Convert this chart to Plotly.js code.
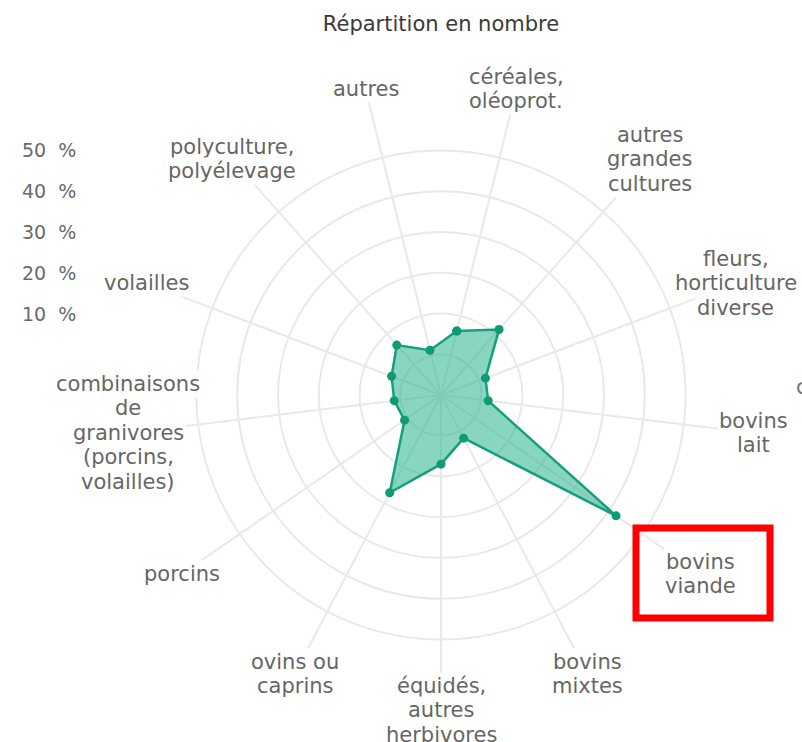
<!DOCTYPE html>
<html>
<head>
<meta charset="utf-8">
<script src="https://cdn.plot.ly/plotly-3.0.1.min.js"></script>
<style>html,body{margin:0;padding:0;background:#fff;}#chart{width:802px;height:742px;}</style>
</head>
<body>
<div id="chart"></div>
<script>
// ---- data ----
const categories = [
  "céréales,<br>oléoprot.",
  "autres<br>grandes<br>cultures",
  "fleurs,<br>horticulture<br>diverse",
  "bovins<br>lait",
  "bovins<br>viande",
  "bovins<br>mixtes",
  "équidés,<br>autres<br>herbivores",
  "ovins ou<br>caprins",
  "porcins",
  "combinaisons<br>de<br>granivores<br>(porcins,<br>volailles)",
  "volailles",
  "polyculture,<br>polyélevage",
  "autres"
];
const values = [6.2, 11.5, 1.7, 1.7, 42.2, 2.0, 7.0, 17.1, 0.9, 1.6, 3.0, 6.4, 1.35];
const radialTickValues = [10, 20, 30, 40, 50];
const radialTickLabels = ["10\u00a0\u00a0%", "20\u00a0\u00a0%", "30\u00a0\u00a0%", "40\u00a0\u00a0%", "50\u00a0\u00a0%"];
const chartTitle = "Répartition en nombre";

// ---- geometry (layout) ----
const W = 802, H = 742;
const CX = 441, CY = 395;      // polar centre in px
const ROUT = 305;              // outer radius (end of spokes)
const R0 = 40.6;               // radius of value 0
const R50 = 244.6;             // radius of value 50
const K = (R50 - R0) / 50;     // px per unit
const RMIN = -R0 / K;
const RMAX = (ROUT - R0) / K;
const N = categories.length;
const FIRST_ANGLE = 180 - Math.floor(N / 2) * 360 / N; // clockwise from top
const LABEL_R = 315;
const LINE_H = 24.5;
const FONT = "DejaVu Sans, sans-serif";

const theta = categories.concat([categories[0]]);
const rr = values.concat([values[0]]);

const trace = {
  type: "scatterpolar",
  r: rr,
  theta: theta,
  mode: "lines+markers",
  fill: "toself",
  fillcolor: "rgba(38,180,142,0.55)",
  line: {color: "#15a07c", width: 2.5},
  marker: {color: "#0f9a74", size: 9},
  hoverinfo: "skip",
  cliponaxis: false
};

const px2x = x => x / W;
const px2y = y => 1 - y / H;

const annotations = [];
// radial scale labels (left column)
radialTickValues.forEach((v, i) => {
  annotations.push({
    xref: "paper", yref: "paper",
    x: px2x(78), y: px2y(CY - (R0 + v * K)),
    xanchor: "right", yanchor: "middle",
    text: radialTickLabels[i], showarrow: false,
    font: {family: FONT, size: 19, color: "#6a6a6a"}
  });
});
// category labels, centred, one line at a time, white background hides spoke ends
categories.forEach((c, i) => {
  const a = (FIRST_ANGLE + i * 360 / N) * Math.PI / 180;
  const lx = CX + LABEL_R * Math.sin(a);
  const ly = CY - LABEL_R * Math.cos(a);
  const lines = c.split("<br>");
  lines.forEach((t, j) => {
    annotations.push({
      xref: "paper", yref: "paper",
      x: px2x(lx), y: px2y(ly + (j - (lines.length - 1) / 2) * LINE_H),
      xanchor: "center", yanchor: "middle",
      text: t, showarrow: false,
      bgcolor: "#ffffff", borderpad: 1,
      font: {family: FONT, size: 21, color: "#666"}
    });
  });
});
// partially visible text at the right edge
annotations.push({
  xref: "paper", yref: "paper",
  x: px2x(794), y: px2y(387),
  xanchor: "left", yanchor: "middle",
  text: "c", showarrow: false,
  font: {family: FONT, size: 21, color: "#777"}
});

const layout = {
  width: W, height: H,
  margin: {l: 0, r: 0, t: 0, b: 0},
  paper_bgcolor: "#fff",
  showlegend: false,
  title: {
    text: chartTitle,
    x: px2x(CX), xanchor: "center",
    y: px2y(24), yanchor: "middle",
    font: {family: FONT, size: 21, color: "#3a3a3a"}
  },
  polar: {
    domain: {
      x: [px2x(CX - ROUT), px2x(CX + ROUT)],
      y: [px2y(CY + ROUT), px2y(CY - ROUT)]
    },
    bgcolor: "rgba(0,0,0,0)",
    radialaxis: {
      range: [RMIN, RMAX],
      tickvals: [0].concat(radialTickValues),
      showticklabels: false,
      ticks: "",
      showline: false,
      gridcolor: "#e9e9e9",
      gridwidth: 2
    },
    angularaxis: {
      direction: "clockwise",
      rotation: 90 - FIRST_ANGLE,
      showline: false,
      showticklabels: false,
      ticks: "",
      gridcolor: "#e9e9e9",
      gridwidth: 2
    }
  },
  annotations: annotations,
  shapes: [{
    type: "rect", xref: "paper", yref: "paper",
    x0: px2x(636), x1: px2x(770),
    y0: px2y(618), y1: px2y(528),
    line: {color: "#ff0000", width: 7},
    fillcolor: "rgba(0,0,0,0)"
  }]
};

Plotly.newPlot("chart", [trace], layout, {displayModeBar: false, staticPlot: true});
</script>
</body>
</html>
